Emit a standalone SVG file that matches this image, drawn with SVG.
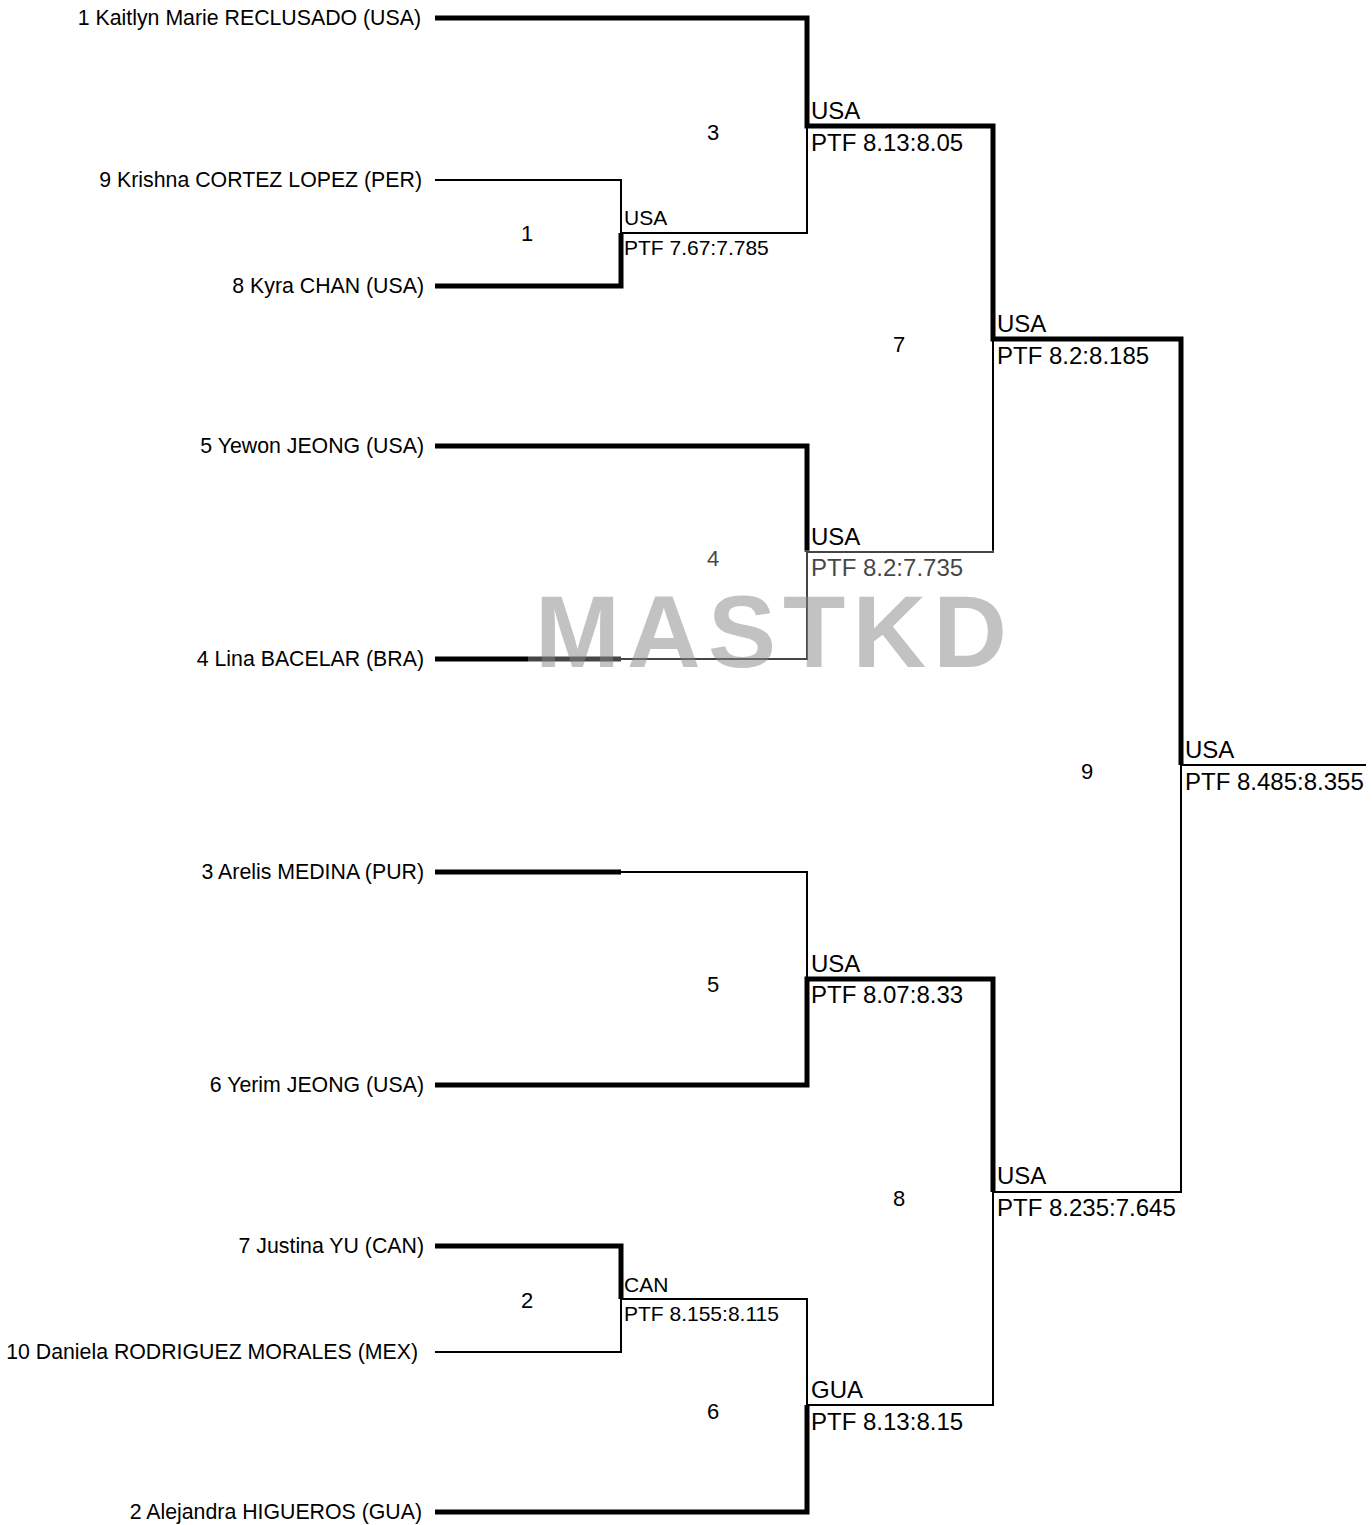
<svg xmlns="http://www.w3.org/2000/svg" width="1372" height="1525" viewBox="0 0 1372 1525">
<style>
text{font-family:"Liberation Sans",Arial,sans-serif;fill:#000}
.nm{font-size:21.3px;text-anchor:end}
.s{font-size:21px}
.b{font-size:24px}
.num{font-size:22px;text-anchor:middle}
.t{fill:none;stroke:#000;stroke-width:5;stroke-linejoin:miter}
.n{fill:none;stroke:#000;stroke-width:2;stroke-linejoin:miter}
.wm{font-family:"Liberation Sans",Arial,sans-serif;font-weight:bold;font-size:102px;fill:#858585;fill-opacity:0.5}
</style>
<rect width="1372" height="1525" fill="#fff"/>
<g id="connectors">
<path class="n" d="M435,180 H621 V233"/>
<path class="n" d="M621,233 H807 V126"/>
<path class="n" d="M807,552 H993 V339"/>
<path class="n" d="M621,659 H807 V552"/>
<path class="n" d="M621,872 H807 V979"/>
<path class="n" d="M435,1352 H621 V1299"/>
<path class="n" d="M621,1299 H807 V1405"/>
<path class="n" d="M807,1405 H993 V1192"/>
<path class="n" d="M993,1192 H1181 V765"/>
<path class="n" d="M1181,765 H1366"/>
<path class="t" d="M435,18 H807 V126 H993 V339 H1181 V765"/>
<path class="t" d="M435,286 H621 V233"/>
<path class="t" d="M435,446 H807 V552"/>
<path class="t" d="M435,659 H621"/>
<path class="t" d="M435,872 H621"/>
<path class="t" d="M435,1085 H807 V979 H993 V1192"/>
<path class="t" d="M435,1246 H621 V1299"/>
<path class="t" d="M435,1512 H807 V1405"/>
</g>
<g id="players">
<text id="p1" class="nm" x="421" y="25">1 Kaitlyn Marie RECLUSADO (USA)</text>
<text id="p9" class="nm" x="422" y="187">9 Krishna CORTEZ LOPEZ (PER)</text>
<text id="p8" class="nm" x="424" y="293">8 Kyra CHAN (USA)</text>
<text id="p5" class="nm" x="424" y="453">5 Yewon JEONG (USA)</text>
<text id="p4" class="nm" x="424" y="666">4 Lina BACELAR (BRA)</text>
<text id="p3" class="nm" x="424" y="879">3 Arelis MEDINA (PUR)</text>
<text id="p6" class="nm" x="424" y="1092">6 Yerim JEONG (USA)</text>
<text id="p7" class="nm" x="424" y="1253">7 Justina YU (CAN)</text>
<text id="p10" class="nm" x="418" y="1359">10 Daniela RODRIGUEZ MORALES (MEX)</text>
<text id="p2" class="nm" x="422" y="1519">2 Alejandra HIGUEROS (GUA)</text>
</g>
<g id="m1"><text class="s" x="624" y="225">USA</text><text class="s" x="624" y="255">PTF 7.67:7.785</text><text class="num" x="527" y="241">1</text></g>
<g id="m2"><text class="s" x="624" y="1292">CAN</text><text class="s" x="624" y="1321">PTF 8.155:8.115</text><text class="num" x="527" y="1308">2</text></g>
<g id="m3"><text class="b" x="811" y="119">USA</text><text class="b" x="811" y="151">PTF 8.13:8.05</text><text class="num" x="713" y="140">3</text></g>
<g id="m4"><text class="b" x="811" y="545">USA</text><text class="b" x="811" y="576">PTF 8.2:7.735</text><text class="num" x="713" y="566">4</text></g>
<g id="m5"><text class="b" x="811" y="972">USA</text><text class="b" x="811" y="1003">PTF 8.07:8.33</text><text class="num" x="713" y="992">5</text></g>
<g id="m6"><text class="b" x="811" y="1398">GUA</text><text class="b" x="811" y="1430">PTF 8.13:8.15</text><text class="num" x="713" y="1419">6</text></g>
<g id="m7"><text class="b" x="997" y="332">USA</text><text class="b" x="997" y="364">PTF 8.2:8.185</text><text class="num" x="899" y="352">7</text></g>
<g id="m8"><text class="b" x="997" y="1184">USA</text><text class="b" x="997" y="1216">PTF 8.235:7.645</text><text class="num" x="899" y="1206">8</text></g>
<g id="m9"><text class="b" x="1185" y="758">USA</text><text class="b" x="1185" y="790">PTF 8.485:8.355</text><text class="num" x="1087" y="779">9</text></g>
<g id="watermark">
<rect x="528" y="582" width="482" height="90" fill="#fff" fill-opacity="0.27"/>
<rect x="528" y="550" width="482" height="32" fill="#fff" fill-opacity="0.27"/>
<text class="wm" x="535" y="667" textLength="472" lengthAdjust="spacing">MASTKD</text>
</g>
</svg>
